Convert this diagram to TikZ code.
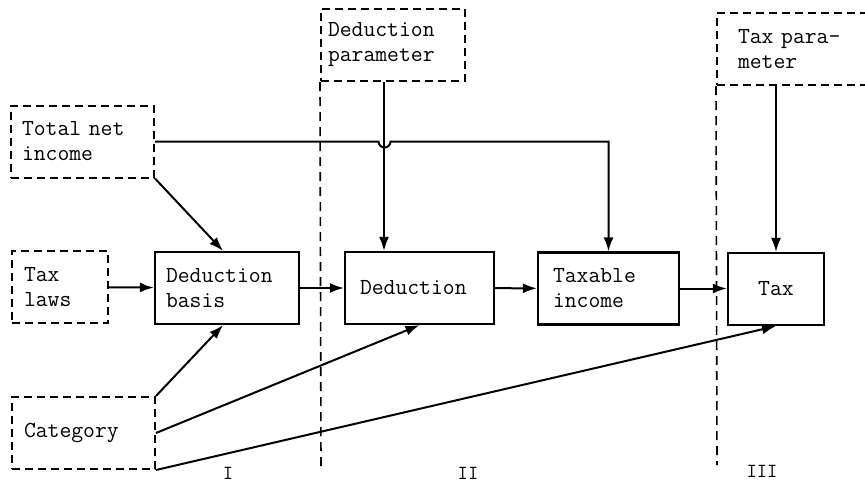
\documentclass[tikz,border=0pt]{standalone}
\usepackage{fontspec}
\usetikzlibrary{arrows.meta}

\begin{document}
\begin{tikzpicture}[
  x=1pt, y=-1pt,
  every node/.style={font=\ttfamily\fontsize{23}{25}\selectfont},
  stage/.style={draw, line width=2.2pt, align=left, inner xsep=12pt, minimum height=72pt},
  given/.style={stage, line width=2pt, dash pattern=on 8pt off 5pt},
  divider/.style={line width=1.6pt, dash pattern=on 9pt off 6pt},
  arrow/.style={-{Latex[length=14pt,width=10pt]}, line width=2pt},
  stagelabel/.style={inner sep=0pt, anchor=base, font=\ttfamily\fontsize{20}{22}\selectfont}
]
  \clip (0,0) rectangle (865,483);

  % input boxes
  \node[given, text width=121pt, inner xsep=11pt] (netinc) at (82.5,141.5) {Total net\\income};
  \node[given, text width=72pt] (laws) at (60,287) {Tax\\laws};
  \node[given, text width=119pt] (category) at (83.5,433) {Category};
  \node[given, text width=130pt, inner xsep=7pt] (dparam) at (393,45) {Deduction\\parameter};
  \node[given, text width=121pt, inner xsep=21pt] (tparam) at (798.5,49) {Tax para-\\meter};

  % computed boxes
  \node[stage, text width=122pt, inner xsep=11pt] (basis) at (227,288) {Deduction\\basis};
  \node[stage, text width=119pt, inner xsep=15pt] (deduction) at (419.5,288) {Deduction};
  \node[stage, text width=111pt, inner xsep=15pt] (taxable) at (608.5,288.5) {Taxable\\income};
  \node[stage, text width=72pt, align=center] (tax) at (776,289) {Tax};

  % stage dividers
  \coordinate (endI) at (321,469);
  \coordinate (endII) at (717,465);
  \draw[divider] (dparam.south west) -- (endI);
  \draw[divider] (tparam.south west) -- (endII);
  \node[stagelabel] (lI) at (228,479) {I};
  \node[stagelabel] (lII) at (468,479) {II};
  \node[stagelabel] (lIII) at (762,477) {III};

  % flows
  \draw[arrow] (netinc.east) -- ++(223.5,0) arc[start angle=180, end angle=0, radius=6]
    -| (taxable.north);
  \draw[arrow] (netinc.south east) -- ([xshift=-4pt]basis.north);
  \draw[arrow] ([xshift=-9pt]dparam.south) -- ([xshift=-9pt]dparam.south |- deduction.north);
  \draw[arrow] (tax.north |- tparam.south) -- (tax.north);
  \draw[arrow] (laws) -- (basis);
  \draw[arrow] (basis) -- (deduction);
  \draw[arrow] (deduction) -- (taxable);
  \draw[arrow] (taxable.east) -- (tax.west |- taxable.east);
  \draw[arrow] (category.north east) -- ([xshift=-4pt]basis.south);
  \draw[arrow] (category.east) -- (deduction.south);
  \draw[arrow] (category.south east) -- (tax.south);
\end{tikzpicture}
\end{document}
